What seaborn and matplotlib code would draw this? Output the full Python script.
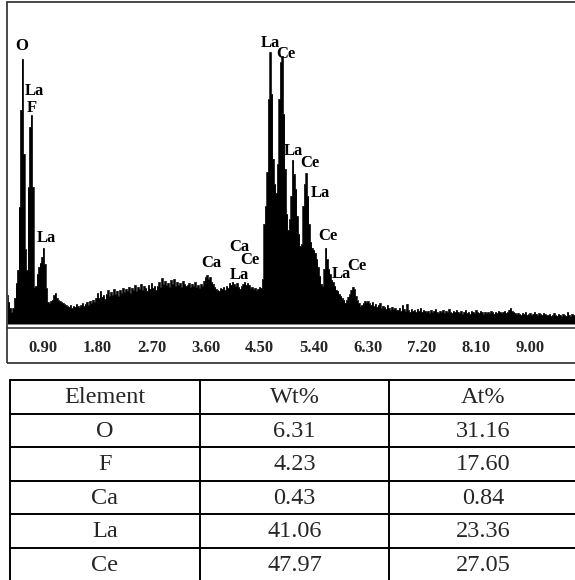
import numpy as np
import pandas as pd
import seaborn as sns
import matplotlib.pyplot as plt
from matplotlib.patches import Rectangle

# EDS spectrum, channel counts (0.025 keV channels from 0.30 keV)
start_kev = 0.30
step_kev = 0.025
counts = [
    29, 22, 16, 12, 16, 26, 41, 54, 117, 214, 265, 170, 75, 54, 137, 197, 209, 137, 37, 38,
    50, 57, 61, 67, 76, 60, 36, 22, 21, 23, 24, 29, 31, 26, 24, 23, 22, 21, 20, 19,
    18, 17, 19, 16, 18, 17, 20, 18, 17, 19, 21, 18, 20, 22, 19, 23, 21, 24, 22, 26,
    31, 26, 33, 27, 29, 25, 30, 34, 28, 32, 29, 35, 30, 33, 28, 34, 31, 36, 32, 35,
    33, 37, 31, 36, 34, 39, 33, 37, 35, 40, 34, 38, 36, 33, 39, 35, 41, 36, 38, 34,
    38, 42, 37, 46, 40, 43, 39, 41, 37, 44, 40, 45, 38, 42, 39, 41, 37, 43, 40, 38,
    39, 41, 37, 40, 38, 42, 37, 39, 36, 40, 38, 43, 47, 49, 45, 47, 42, 40, 37, 35,
    34, 33, 36, 35, 37, 34, 38, 36, 41, 39, 42, 40, 38, 41, 37, 35, 38, 40, 42, 39,
    41, 39, 36, 37, 35, 36, 34, 35, 37, 36, 45, 100, 118, 152, 225, 272, 230, 165, 140, 131,
    160, 225, 262, 268, 210, 155, 110, 94, 105, 128, 164, 150, 135, 108, 90, 78, 80, 118, 140, 151,
    128, 100, 82, 76, 74, 71, 65, 57, 48, 40, 38, 55, 76, 65, 55, 50, 44, 42, 38, 34,
    33, 30, 28, 26, 24, 21, 24, 27, 30, 34, 37, 35, 28, 24, 21, 18, 19, 21, 23, 22,
    23, 21, 19, 22, 18, 20, 17, 19, 21, 16, 18, 17, 15, 19, 16, 14, 17, 15, 16, 14,
    14, 16, 13, 19, 15, 13, 20, 14, 12, 15, 13, 14, 12, 15, 13, 16, 12, 14, 13, 12,
    13, 11, 14, 12, 13, 15, 12, 11, 13, 12, 14, 11, 13, 12, 15, 12, 11, 13, 12, 14,
    12, 11, 13, 10, 12, 14, 11, 12, 10, 13, 12, 11, 14, 12, 11, 13, 12, 10, 12, 11,
    12, 11, 13, 12, 10, 12, 11, 13, 12, 11, 12, 13, 11, 12, 14, 16, 13, 12, 11, 10,
    11, 10, 9, 11, 10, 12, 9, 10, 11, 9, 10, 12, 10, 9, 11, 10, 9, 11, 10, 9,
    9, 10, 8, 9, 11, 9, 8, 10, 9, 8, 10, 9, 8, 12, 9, 8, 10, 9, 8, 9,
]

tick_kev = [0.90, 1.80, 2.70, 3.60, 4.50, 5.40, 6.30, 7.20, 8.10, 9.00]
tick_labels = ["0.90", "1.80", "2.70", "3.60", "4.50", "5.40", "6.30", "7.20", "8.10", "9.00"]

peak_names = ["O", "La", "F", "La", "Ca", "Ca", "Ce", "La", "La", "Ce",
              "La", "Ce", "La", "Ce", "La", "Ce"]
peak_kev = [0.546, 0.745, 0.712, 0.945, 3.691, 4.165, 4.340, 4.157, 4.673, 4.939,
            5.056, 5.339, 5.505, 5.630, 5.855, 6.121]
peak_label_y = [274, 229, 212, 82, 57, 73, 60, 45, 277, 266,
                169, 157, 127, 84, 46, 54]

elements = ["O", "F", "Ca", "La", "Ce"]
wt_pct = ["6.31", "4.23", "0.43", "41.06", "47.97"]
at_pct = ["31.16", "17.60", "0.84", "23.36", "27.05"]
headers = ["Element", "Wt%", "At%"]

sns.set_style("white")
plt.rcParams["font.family"] = ["Liberation Serif", "DejaVu Serif"]

df = pd.DataFrame({"energy": start_kev + step_kev * np.arange(len(counts)),
                   "counts": counts})

W, H = 575, 580
fig = plt.figure(figsize=(W / 100, H / 100), dpi=100)

# outer frame of the spectrum panel (right side runs off the picture)
fig.patches.append(Rectangle((7 / W, 1 - 363 / H), 573 / W, 361 / H,
                             transform=fig.transFigure, fill=False,
                             edgecolor="#3a3a3a", linewidth=1.3))

ax = fig.add_axes([7 / W, 1 - 327.5 / H, 570 / W, 325.5 / H])
ax.patch.set_alpha(0)
ax.fill_between(df["energy"], 0, df["counts"], step="mid", color="black", linewidth=0)
sns.lineplot(data=df, x="energy", y="counts", ax=ax, color="black",
             linewidth=0.5, drawstyle="steps-mid")

ax.set_xlim(0.296, 9.782)
ax.set_ylim(-3.5, 322)
for side in ["top", "left", "right"]:
    ax.spines[side].set_visible(False)
ax.spines["bottom"].set_color("#3a3a3a")
ax.spines["bottom"].set_linewidth(1.2)
ax.set_yticks([])
ax.set_xticks(tick_kev)
ax.set_xticklabels(tick_labels, fontweight="bold", fontsize=12)
ax.tick_params(axis="x", direction="out", length=3, width=1, color="#3a3a3a", pad=6)
ax.set_xlabel("")
ax.set_ylabel("")

for name, e, yv in zip(peak_names, peak_kev, peak_label_y):
    ax.text(e, yv, name, ha="center", va="baseline", fontsize=12,
            fontweight="bold", color="black")

# composition table, drawn as a grid; right and bottom borders fall outside the picture
tab = fig.add_axes([0, 0, 1, 1])
tab.set_xlim(0, W)
tab.set_ylim(H, 0)
tab.axis("off")
col_edges = [10, 200, 389, 578]
row_h = 33.5
top = 380
n_rows = len(elements) + 1
for i in range(n_rows + 1):
    tab.plot([col_edges[0], col_edges[-1]], [top + i * row_h] * 2, color="black", lw=1.4)
for xe in col_edges:
    tab.plot([xe, xe], [top, top + n_rows * row_h], color="black", lw=1.4)

table_rows = [headers] + [[el, w, a] for el, w, a in zip(elements, wt_pct, at_pct)]
for i, row in enumerate(table_rows):
    yc = top + (i + 0.5) * row_h
    for j, txt in enumerate(row):
        xc = (col_edges[j] + col_edges[j + 1]) / 2
        tab.text(xc, yc - 1.5, txt, ha="center", va="center_baseline", fontsize=17.5)

fig.savefig("out.png", dpi=100)
